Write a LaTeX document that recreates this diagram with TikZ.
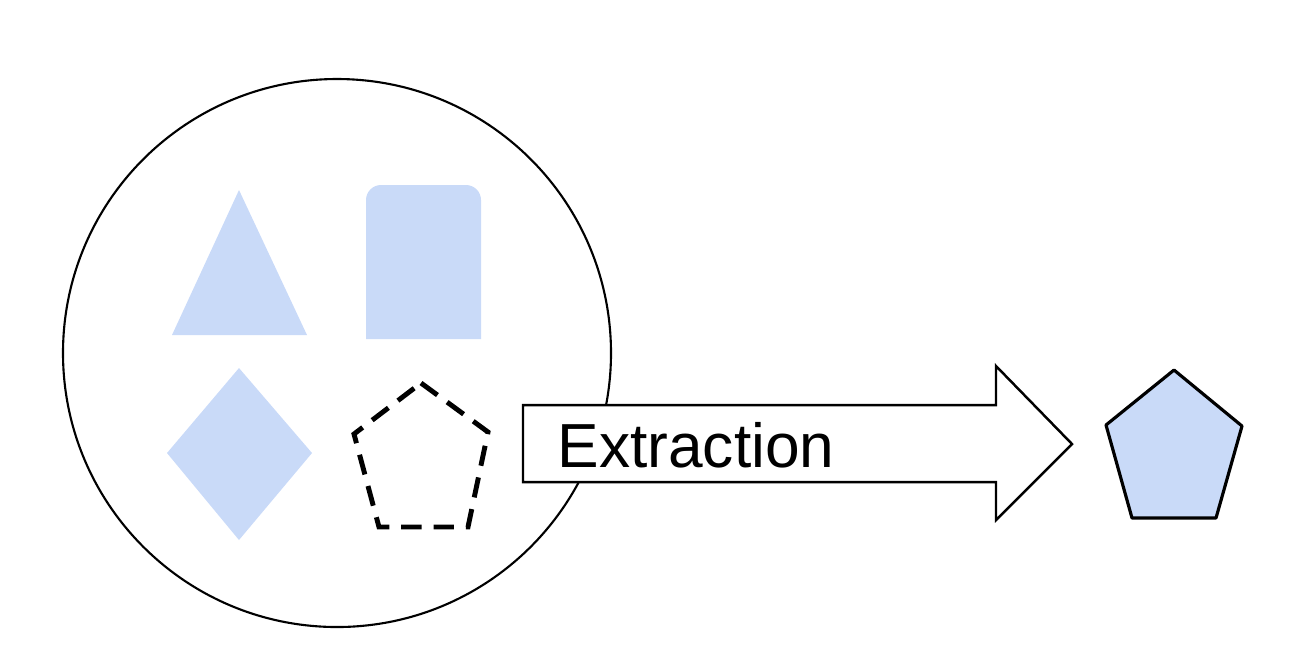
\documentclass[tikz,border=0pt]{standalone}
\usepackage{fontspec}
\setmainfont{Liberation Sans}
\usepackage{tikz}
\usetikzlibrary{calc}
\usetikzlibrary{positioning}
\definecolor{cornflower}{RGB}{201, 218, 248}
\definecolor{inkline}{RGB}{0, 0, 0}

\begin{document}
\begin{tikzpicture}[x=0.01cm, y=-0.01cm]
            \useasboundingbox (0,0) rectangle (1294,644);
            % pool of shapes
            \draw[color=inkline, line width=0.6pt]                       (337, 353) circle (274);
            \fill[cornflower]  (239, 190) -- (307, 335) -- (172, 335) -- cycle;
            \fill[cornflower]  (366, 339) -- (366, 200) arc (180:270:15) -- (466, 185) arc (270:360:15) -- (481, 339) -- cycle;
            \fill[cornflower]  (239, 368) -- (312, 453) -- (239, 540) -- (167, 453) -- cycle;
            \draw[color=inkline, line width=1.4pt, dash pattern=on 5.8pt off 3.4pt, line join=miter]
                               (421, 383) -- (488, 432) -- (468, 527) -- (379, 527) -- (354, 434) -- cycle;
            % extraction arrow
            \filldraw[color=inkline, fill=white, line width=0.7pt]
                               (523, 405) -- (996, 405) -- (996, 366) -- (1072, 444) -- (996, 520) -- (996, 482) -- (523, 482) -- cycle;
            \node[anchor=base west, inner sep=0pt, font=\fontsize{17.7}{20}\selectfont] (extract) at (557, 467) {Extraction};
            % extracted shape
            \filldraw[color=inkline, fill=cornflower, line width=0.9pt, line join=round]
                               (1174, 370) -- (1242, 426) -- (1216, 518) -- (1132, 518) -- (1106, 425) -- cycle;
        \end{tikzpicture}
\end{document}
